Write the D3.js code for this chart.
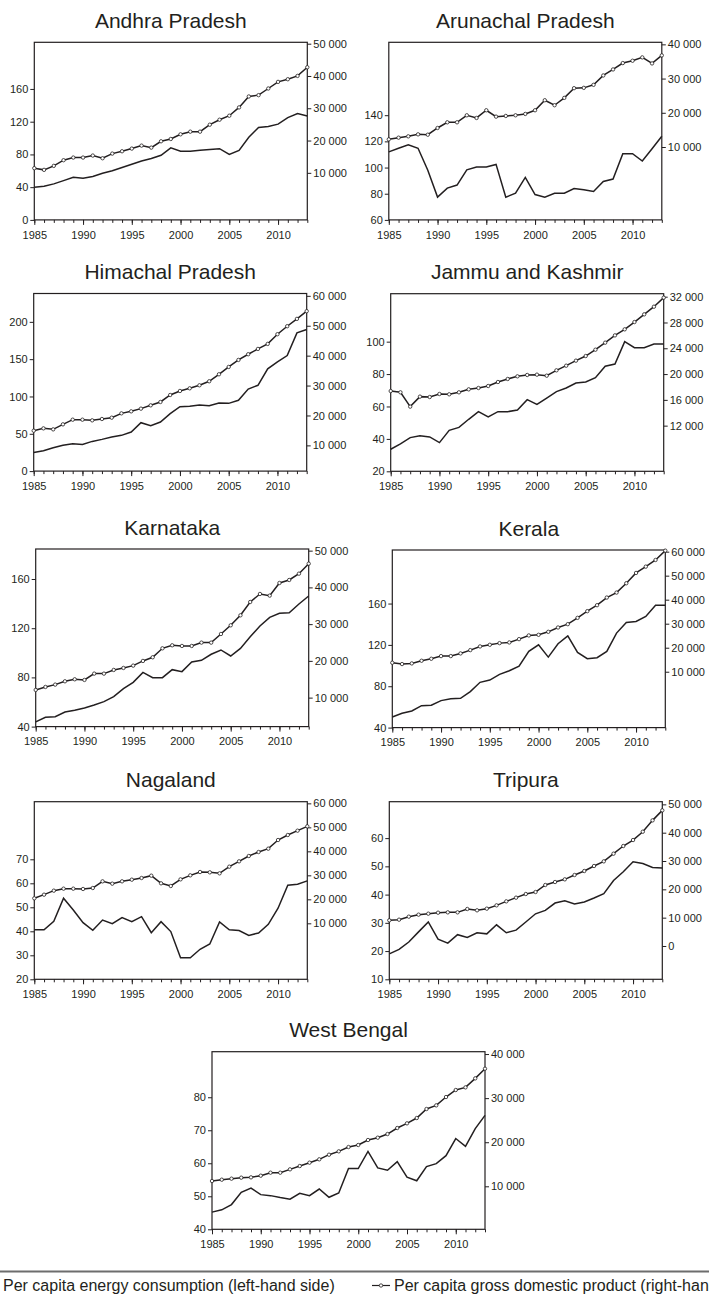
<!DOCTYPE html>
<html>
<head>
<meta charset="utf-8">
<script src="https://cdn.jsdelivr.net/npm/d3@7"></script>
<style>
body { margin: 0; background: #fff; }
svg text { font-family: "Liberation Sans", Arial, Helvetica, sans-serif; fill: #231f20; }
</style>
</head>
<body>
<svg id="chart" width="709" height="1297"></svg>
<script>
// years on the x axis
var years = [1985, 1986, 1987, 1988, 1989, 1990, 1991, 1992, 1993, 1994, 1995, 1996, 1997, 1998, 1999,
             2000, 2001, 2002, 2003, 2004, 2005, 2006, 2007, 2008, 2009, 2010, 2011, 2012, 2013];
var year_labels = [1985, 1990, 1995, 2000, 2005, 2010];

// per capita energy consumption (left-hand side) and per capita GDP (right-hand side)
var ap_energy = [40, 41, 44, 48, 52, 51, 53, 57, 60, 64, 68, 72, 75, 79, 88, 84, 84, 85, 86, 87, 80, 85, 101, 113, 114, 117, 125, 130, 127];
var ap_gdp = [11440, 10920, 12160, 13910, 14730, 14730, 15350, 14520, 15960, 16680, 17510, 18430, 17810, 19770, 20490, 21930, 22750, 22750, 24910, 26450, 27690, 30260, 33650, 34060, 36120, 38170, 38990, 40020, 42700];

var ar_energy = [112, 114.7, 117.3, 114.7, 98, 77.4, 84.3, 86.6, 98.3, 100.4, 100.4, 102.4, 77.4, 80.4, 92.5, 79.4, 77.4, 80.4, 80.4, 84, 83, 81.7, 89.4, 91.2, 110.6, 110.6, 105, 114.4, 123.9];
var ar_gdp = [12240, 12730, 13120, 13700, 13600, 15560, 17220, 17220, 19270, 18490, 20740, 18880, 19080, 19270, 19670, 20740, 23670, 22210, 24360, 27190, 27290, 28170, 30910, 32670, 34530, 35210, 36190, 34430, 36770];

var hp_energy = [25, 27.3, 31.3, 34.5, 36.7, 35.8, 39.8, 42.5, 45.6, 47.9, 52.3, 64.9, 60.9, 65.8, 77, 86.4, 86.8, 88.6, 87.7, 91.3, 90.8, 94.9, 110, 115, 137, 146.3, 154.8, 185.2, 189.7];
var hp_gdp = [14910, 15690, 15360, 17030, 18590, 18590, 18370, 18820, 19260, 20710, 21380, 22280, 23390, 24510, 26850, 28190, 29080, 30090, 31430, 33770, 36230, 38570, 40470, 42250, 43930, 47170, 49840, 52300, 54870];

var jk_energy = [33.6, 36.9, 40.8, 42, 41.2, 37.7, 45.3, 47.1, 52.1, 56.8, 53.5, 56.8, 56.8, 57.8, 64.2, 61.3, 65.2, 69.2, 71.4, 74.5, 75.1, 77.8, 84.8, 86.2, 100, 96.3, 96.3, 98.6, 98.6];
var jk_gdp = [17370, 17170, 14950, 16500, 16440, 16910, 16860, 17170, 17630, 17840, 18150, 18770, 19240, 19650, 19860, 19910, 19750, 20580, 21300, 22080, 22800, 23780, 24870, 26000, 26940, 28070, 29260, 30450, 31850];

var ka_energy = [43.8, 47.6, 48.1, 51.9, 53.3, 55.2, 57.6, 60.3, 64.4, 70.9, 76, 84.1, 79.8, 79.8, 86.3, 84.7, 92.5, 93.9, 98.8, 102.3, 97.4, 103.6, 113.1, 121.8, 128.8, 132.1, 132.6, 139.7, 146.2];
var ka_gdp = [12090, 12900, 13540, 14440, 14990, 14810, 16530, 16530, 17530, 18070, 18710, 19980, 20980, 23420, 24240, 24060, 24060, 24970, 24970, 27320, 29680, 32400, 36030, 38210, 37760, 41200, 42020, 43740, 46460];

var kl_energy = [50.3, 53.8, 56.1, 61.2, 61.6, 66.1, 68, 68.3, 74.8, 83.8, 86, 91.5, 95, 99.5, 113.7, 120.1, 108.2, 121.1, 128.8, 112.7, 106.6, 107.6, 113.7, 131.4, 141.7, 142.7, 147.5, 158.4, 158.4];
var kl_gdp = [13740, 13190, 13460, 14570, 15400, 16510, 16510, 17620, 19000, 20530, 21220, 21910, 22190, 23570, 25100, 25370, 26620, 28420, 29810, 32440, 35210, 37700, 40890, 42960, 46840, 51140, 53770, 56540, 60420];

var nl_energy = [40.6, 40.6, 44.2, 53.8, 48.9, 43.6, 40.4, 44.7, 43.2, 45.7, 44, 46.1, 39.4, 44, 39.9, 29, 29, 32.5, 34.7, 43.9, 40.6, 40.3, 38.3, 39.3, 42.9, 49.6, 59.2, 59.6, 61];
var nl_gdp = [20420, 21940, 23610, 24440, 24440, 24310, 24720, 27500, 26530, 27500, 28190, 28890, 29860, 26670, 25560, 28330, 30000, 31390, 31250, 30830, 33610, 35830, 38060, 39720, 41110, 44720, 46810, 48610, 50420];

var tr_energy = [19, 20.6, 23.2, 26.8, 30.3, 24.2, 22.8, 25.8, 24.8, 26.5, 26.1, 29.3, 26.5, 27.4, 30.3, 33.2, 34.4, 37, 37.8, 36.7, 37.4, 38.8, 40.3, 45, 48.1, 51.6, 51, 49.6, 49.4];
var tr_gdp = [9060, 9290, 10350, 11060, 11410, 11760, 11880, 11880, 13060, 12590, 13180, 14350, 15760, 17060, 18350, 19060, 21530, 22590, 23530, 25060, 26470, 28240, 29880, 32590, 35290, 37410, 40350, 44350, 47880];

var wb_energy = [45.2, 45.9, 47.5, 51.2, 52.5, 50.5, 50.2, 49.6, 49.1, 50.9, 50.2, 52.2, 49.7, 51, 58.4, 58.4, 63.6, 58.6, 57.9, 60.5, 55.8, 54.7, 59, 59.9, 62.3, 67.5, 65.1, 70.5, 74.5];
var wb_gdp = [11200, 11500, 11730, 11960, 12030, 12410, 13090, 13090, 13850, 14600, 15360, 16120, 17170, 17930, 18910, 19370, 20500, 21030, 21860, 23220, 24280, 25490, 27530, 28360, 30250, 31840, 32440, 34480, 36670];

// tick labels of each panel
var ap_left_ticks = [0, 40, 80, 120, 160];
var ap_right_ticks = [10000, 20000, 30000, 40000, 50000];
var ar_left_ticks = [60, 80, 100, 120, 140];
var ar_right_ticks = [10000, 20000, 30000, 40000];
var hp_left_ticks = [0, 50, 100, 150, 200];
var hp_right_ticks = [10000, 20000, 30000, 40000, 50000, 60000];
var jk_left_ticks = [20, 40, 60, 80, 100];
var jk_right_ticks = [12000, 16000, 20000, 24000, 28000, 32000];
var ka_left_ticks = [40, 80, 120, 160];
var ka_right_ticks = [10000, 20000, 30000, 40000, 50000];
var kl_left_ticks = [40, 80, 120, 160];
var kl_right_ticks = [10000, 20000, 30000, 40000, 50000, 60000];
var nl_left_ticks = [20, 30, 40, 50, 60, 70];
var nl_right_ticks = [10000, 20000, 30000, 40000, 50000, 60000];
var tr_left_ticks = [10, 20, 30, 40, 50, 60];
var tr_right_ticks = [0, 10000, 20000, 30000, 40000, 50000];
var wb_left_ticks = [40, 50, 60, 70, 80];
var wb_right_ticks = [10000, 20000, 30000, 40000];

var states = ["Andhra Pradesh", "Arunachal Pradesh", "Himachal Pradesh", "Jammu and Kashmir", "Karnataka", "Kerala", "Nagaland", "Tripura", "West Bengal"];

var legend_labels = ["Per capita energy consumption (left-hand side)", "Per capita gross domestic product (right-hand side)"];

// scale extents of each panel (the visible range of both axes)
var panels = [
    { title: states[0], energy: ap_energy, gdp: ap_gdp, left: [0, 217], right: [-4580, 50430], left_ticks: ap_left_ticks, right_ticks: ap_right_ticks },
    { title: states[1], energy: ar_energy, gdp: ar_gdp, left: [60, 195.7], right: [-11300, 40600], left_ticks: ar_left_ticks, right_ticks: ar_right_ticks },
    { title: states[2], energy: hp_energy, gdp: hp_gdp, left: [0, 238], right: [1400, 60780], left_ticks: hp_left_ticks, right_ticks: hp_right_ticks },
    { title: states[3], energy: jk_energy, gdp: jk_gdp, left: [20, 129.6], right: [4920, 32465], left_ticks: jk_left_ticks, right_ticks: jk_right_ticks },
    { title: states[4], energy: ka_energy, gdp: ka_gdp, left: [40, 184.4], right: [2110, 50450], left_ticks: ka_left_ticks, right_ticks: ka_right_ticks },
    { title: states[5], energy: kl_energy, gdp: kl_gdp, left: [40, 211.8], right: [-13270, 60690], left_ticks: kl_left_ticks, right_ticks: kl_right_ticks },
    { title: states[6], energy: nl_energy, gdp: nl_gdp, left: [20, 94], right: [-13330, 60690], left_ticks: nl_left_ticks, right_ticks: nl_right_ticks },
    { title: states[7], energy: tr_energy, gdp: tr_gdp, left: [10, 72.9], right: [-11760, 50940], left_ticks: tr_left_ticks, right_ticks: tr_right_ticks },
    { title: states[8], energy: wb_energy, gdp: wb_gdp, left: [40, 93.8], right: [250, 40530], left_ticks: wb_left_ticks, right_ticks: wb_right_ticks }
];

// top-left corner of each plot box
var boxes = [[34.3, 42.3], [388.8, 42.3], [33.7, 293.5], [390.7, 293.7], [35.7, 549], [392.3, 550], [34.3, 801.7], [389.3, 801.7], [212, 1051.7]];
var W = 273, H = 177.6;
var ink = "#231f20";

var svg = d3.select("#chart");

function fmt_space(p_value)
{
    return d3.format(",")(p_value).replace(/,/g, " ");
}

function draw_panel(p_panel, p_box)
{
    var g = svg.append("g").attr("transform", "translate(" + p_box[0] + "," + p_box[1] + ")");

    var x = d3.scaleLinear().domain([years[0], years[years.length - 1]]).range([0, W]);
    var y_left = d3.scaleLinear().domain(p_panel.left).range([H, 0]);
    var y_right = d3.scaleLinear().domain(p_panel.right).range([H, 0]);

    g.append("text")
        .attr("x", W / 2)
        .attr("y", -14.5)
        .attr("text-anchor", "middle")
        .style("font-size", "21px")
        .text(p_panel.title);

    // minor year ticks
    var minor = g.append("g").attr("transform", "translate(0," + H + ")")
        .call(d3.axisBottom(x).tickValues(years).tickSize(3).tickFormat(""));
    minor.select(".domain").remove();

    var major = g.append("g").attr("transform", "translate(0," + H + ")")
        .call(d3.axisBottom(x).tickValues(year_labels).tickSize(5).tickPadding(6).tickFormat(d3.format("d")));
    major.select(".domain").remove();

    var left_axis = g.append("g")
        .call(d3.axisLeft(y_left).tickValues(p_panel.left_ticks).tickSize(4).tickPadding(2));
    left_axis.select(".domain").remove();

    var right_axis = g.append("g").attr("transform", "translate(" + W + ",0)")
        .call(d3.axisRight(y_right).tickValues(p_panel.right_ticks).tickSize(4).tickPadding(2).tickFormat(fmt_space));
    right_axis.select(".domain").remove();

    g.selectAll(".tick line").attr("stroke", ink).attr("stroke-width", 1);
    g.selectAll(".tick text").style("font-size", "11px").attr("fill", ink);

    g.append("rect")
        .attr("x", 0).attr("y", 0)
        .attr("width", W).attr("height", H)
        .attr("fill", "none")
        .attr("stroke", ink)
        .attr("stroke-width", 1.2);

    var energy_line = d3.line()
        .x(function(d, i) { return x(years[i]); })
        .y(function(d) { return y_left(d); });

    var gdp_line = d3.line()
        .x(function(d, i) { return x(years[i]); })
        .y(function(d) { return y_right(d); });

    g.append("path")
        .datum(p_panel.energy)
        .attr("d", energy_line)
        .attr("fill", "none")
        .attr("stroke", ink)
        .attr("stroke-width", 1.5);

    g.append("path")
        .datum(p_panel.gdp)
        .attr("d", gdp_line)
        .attr("fill", "none")
        .attr("stroke", ink)
        .attr("stroke-width", 1.5);

    g.selectAll("circle.gdp")
        .data(p_panel.gdp)
        .enter()
        .append("circle")
        .attr("class", "gdp")
        .attr("cx", function(d, i) { return x(years[i]); })
        .attr("cy", function(d) { return y_right(d); })
        .attr("r", 1.7)
        .attr("fill", "#fff")
        .attr("stroke", ink)
        .attr("stroke-width", 0.8);
}

for (var i = 0; i < panels.length; i++)
{
    draw_panel(panels[i], boxes[i]);
}

// legend
svg.append("line")
    .attr("x1", 0).attr("x2", 709)
    .attr("y1", 1271.5).attr("y2", 1271.5)
    .attr("stroke", "#6d6d6d")
    .attr("stroke-width", 1.8);

svg.append("text")
    .attr("x", 3).attr("y", 1290.5)
    .style("font-size", "16px")
    .text(legend_labels[0]);

svg.append("line")
    .attr("x1", 372).attr("x2", 390)
    .attr("y1", 1285.5).attr("y2", 1285.5)
    .attr("stroke", ink)
    .attr("stroke-width", 1.2);

svg.append("circle")
    .attr("cx", 381).attr("cy", 1285.5)
    .attr("r", 1.7)
    .attr("fill", "#fff")
    .attr("stroke", ink)
    .attr("stroke-width", 0.8);

// the source figure is cropped on the right, so this label runs off the edge there too
svg.append("text")
    .attr("x", 394).attr("y", 1290.5)
    .style("font-size", "16px")
    .text(legend_labels[1]);
</script>
</body>
</html>
